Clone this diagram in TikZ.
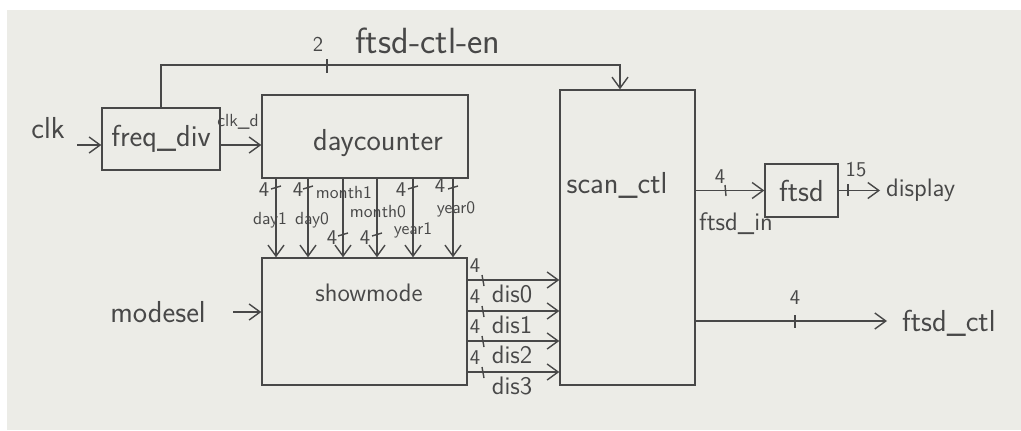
\documentclass[tikz,border=0pt]{standalone}
\usepackage{tikz}
\usetikzlibrary{arrows.meta,positioning,calc}
\definecolor{paper}{RGB}{236,236,231}
\definecolor{pencil}{RGB}{72,72,72}
\tikzset{
  blk/.style={draw=pencil,thick,inner sep=0pt},
  wire/.style={draw=pencil,thick},
  sig/.style={wire,-{Straight Barb[length=2.2mm,width=3.2mm]}},
  txt/.style={text=pencil,font=\sffamily\LARGE,inner sep=1pt},
  lbl/.style={text=pencil,font=\sffamily\normalsize,inner sep=1pt},
  num/.style={text=pencil,font=\sffamily\large,inner sep=1pt},
}

\begin{document}
\begin{tikzpicture}[x=0.02cm,y=-0.02cm]
  \useasboundingbox (0,0) rectangle (1021,430);
  \fill[white] (0,0) rectangle (1021,430);
  \fill[paper] (7,10) rectangle (1021,430);

  % blocks
  \node[blk,minimum width=2.36cm,minimum height=1.24cm,txt] (freq) at (161,139) {freq\_div};
  \node[blk,minimum width=4.12cm,minimum height=1.66cm] (day) at (365,136.5) {};
  \node[txt] (daylbl) at (378,143) {daycounter};
  \node[blk,minimum width=2.7cm,minimum height=5.9cm] (scan) at (627.5,237.5) {};
  \node[txt] (scanlbl) at (617,185) {scan\_ctl};
  \node[blk,minimum width=4.1cm,minimum height=2.54cm] (show) at (364.5,321.5) {};
  \node[txt,font=\sffamily\Large] (showlbl) at (369,293) {showmode};
  \node[blk,minimum width=1.46cm,minimum height=1.06cm,txt] (ftsd) at (801.5,190.5) {ftsd};

  % inputs
  \node[txt] (clk) at (48,128) {clk};
  \coordinate (clkin) at (77,145);
  \draw[sig] (clkin) -- (clkin -| freq.west);
  \node[txt] (msel) at (158,312) {modesel};
  \coordinate (mselin) at (233,312);
  \draw[sig] (mselin) -- (mselin -| show.west);

  % freq_div -> daycounter
  \draw[sig] (freq.east |- 0,145) -- (day.west |- 0,145);
  \node[lbl] (clkd) at (238,122) {clk\_d};

  % enable bus
  \coordinate (en) at (620,65);
  \draw[sig] (freq.north) |- (en) -- (en |- scan.north);
  \draw[wire] (327,59) -- (327,73);
  \node[num] (enw) at (318,44) {2};
  \node[txt,font=\sffamily\huge] (enlbl) at (428,41) {ftsd-ctl-en};

  % daycounter -> showmode
  \foreach \x/\t in {276/188,308/188,343/235,377/235,413/188,453/188}{
    \draw[sig] (\x,0 |- day.south) -- (\x,0 |- show.north);
    \draw[wire] (\x-5,\t+1) -- (\x+5,\t-2);
  }
  \node[num] (w1) at (264,190) {4};
  \node[num] (w2) at (298,190) {4};
  \node[num] (w3) at (332,238) {4};
  \node[num] (w4) at (365,238) {4};
  \node[num] (w5) at (401,190) {4};
  \node[num] (w6) at (440,186) {4};
  \node[lbl] (dayone) at (270,220) {day1};
  \node[lbl] (dayzero) at (312,220) {day0};
  \node[lbl] (monone) at (344,192) {month1};
  \node[lbl] (monzero) at (378,212) {month0};
  \node[lbl] (yrone) at (413,230) {year1};
  \node[lbl] (yrzero) at (456,209) {year0};

  % showmode -> scan_ctl
  \foreach \y/\i in {280/0,311/1,341/2,372/3}{
    \draw[sig] (show.east |- 0,\y) -- (scan.west |- 0,\y);
    \draw[wire] (482,\y-5) -- (484,\y+6);
    \node[num] at (475,\y-14) {4};
    \node[txt,font=\sffamily\Large] at (512,\y+14) {dis\i};
  }

  % scan_ctl -> ftsd -> display
  \draw[sig] (scan.east |- ftsd.west) -- (ftsd.west);
  \draw[wire] (725,185) -- (726,196);
  \node[num] (inw) at (720,177) {4};
  \node[txt,font=\sffamily\Large] (ftsdin) at (736,224) {ftsd\_in};
  \coordinate (dispout) at (880,190.5);
  \draw[sig] (ftsd.east) -- (dispout);
  \draw[wire] (848,184) -- (848,196);
  \node[num] (outw) at (856,170) {15};
  \node[txt,font=\sffamily\Large,anchor=west] (disp) at (884,190) {display};

  % scan_ctl -> ftsd_ctl
  \coordinate (ctlout) at (887,321);
  \draw[sig] (scan.east |- ctlout) -- (ctlout);
  \draw[wire] (795,315) -- (795,328);
  \node[num] (ctlw) at (795,298) {4};
  \node[txt,anchor=west] (ctl) at (900,323) {ftsd\_ctl};
\end{tikzpicture}
\end{document}
